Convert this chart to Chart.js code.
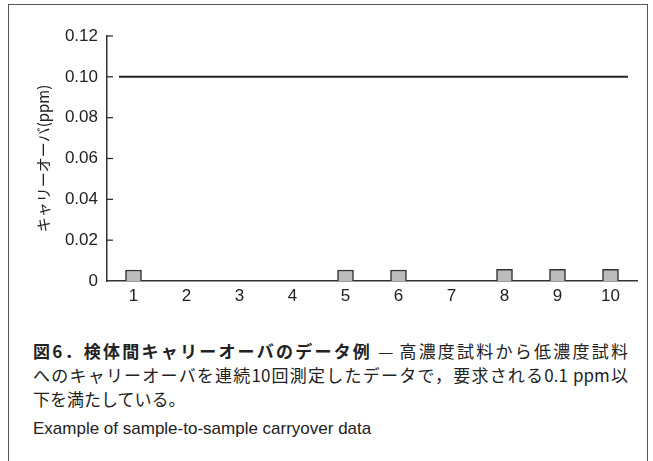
<!DOCTYPE html>
<html>
<head>
<meta charset="utf-8">
<script src="https://cdn.jsdelivr.net/npm/chart.js@4"></script>
<style>
  html, body { margin: 0; padding: 0; background: #fff; }
  body { width: 653px; height: 461px; position: relative; overflow: hidden; }
  #frame { position: absolute; left: 8px; top: 4px; width: 640px; height: 480px; border: 1.5px solid #555; box-sizing: border-box; }
  #chartBox { position: absolute; left: 0; top: 0; width: 653px; height: 320px; }
  #caption { position: absolute; left: 33px; top: 339px; width: 595px; font-family: "Noto Sans CJK JP", sans-serif; font-size: 17px; line-height: 24px; color: #222; }
  #caption .j { text-align: justify; text-align-last: justify; }
  #caption b { font-weight: 700; }
  #en { position: absolute; left: 33px; top: 419px; font-family: "Liberation Sans", Arial, sans-serif; font-size: 17px; color: #222; }
</style>
</head>
<body>
<div id="frame"></div>
<div id="chartBox"><canvas id="carryoverChart" width="653" height="320"></canvas></div>
<div id="caption">
  <div class="j"><b>図6．検体間キャリーオーバのデータ例</b> — 高濃度試料から低濃度試料</div>
  <div class="j">へのキャリーオーバを連続10回測定したデータで，要求される0.1 ppm以</div>
  <div>下を満たしている。</div>
</div>
<div id="en">Example of sample-to-sample carryover data</div>
<script>
const runs = ['1', '2', '3', '4', '5', '6', '7', '8', '9', '10'];
const carryover = [0.0054, 0, 0, 0, 0.0054, 0.0054, 0, 0.0057, 0.0057, 0.0057];
const limit = 0.10;
const yTicks = [0, 0.02, 0.04, 0.06, 0.08, 0.10, 0.12];

// 上限線と内向きの目盛り
const extras = {
    id: 'extras',
    afterDatasetsDraw(chart) {
        const c = chart.ctx, a = chart.chartArea, y = chart.scales.y;
        c.save();
        c.strokeStyle = '#222';
        c.lineWidth = 2;
        const ly = y.getPixelForValue(limit);
        c.beginPath();
        c.moveTo(a.left + 12, ly);
        c.lineTo(a.right - 9, ly);
        c.stroke();
        c.lineWidth = 1.2;
        yTicks.forEach(function (v) {
            if (v === 0) return;
            const py = y.getPixelForValue(v);
            c.beginPath();
            c.moveTo(a.left, py);
            c.lineTo(a.left + 6, py);
            c.stroke();
        });
        c.restore();
    }
};

const ctx = document.getElementById('carryoverChart').getContext('2d');
new Chart(ctx, {
    type: 'bar',
    data: {
        labels: runs,
        datasets: [{
            label: 'キャリーオーバ',
            data: carryover,
            backgroundColor: '#bcbcbc',
            borderColor: '#333',
            borderWidth: 1.5,
            barThickness: 16
        }]
    },
    options: {
        responsive: false,
        animation: false,
        layout: { padding: { top: 36, right: 16, bottom: 0, left: 0 } },
        plugins: { legend: { display: false }, tooltip: { enabled: false } },
        scales: {
            x: {
                grid: { display: false, drawTicks: false },
                border: { display: true, color: '#333', width: 1.5 },
                ticks: { color: '#222', padding: 5, font: { family: 'Liberation Sans', size: 17 } },
                afterFit: function (s) { s.height = 320 - 281; }
            },
            y: {
                min: 0,
                max: 0.12,
                afterBuildTicks: function (s) { s.ticks = yTicks.map(function (v) { return { value: v }; }); },
                grid: { display: false, drawTicks: false },
                border: { display: true, color: '#333', width: 1.5 },
                ticks: {
                    color: '#222',
                    padding: 9,
                    font: { family: 'Liberation Sans', size: 17 },
                    callback: function (v) { return v === 0 ? '0' : v.toFixed(2); }
                },
                title: {
                    display: true,
                    text: 'キャリーオーバ(ppm)',
                    color: '#222',
                    font: { family: 'Noto Sans CJK JP', size: 15 },
                    padding: { top: 34, bottom: 0 }
                },
                afterFit: function (s) { s.width = 107; }
            }
        }
    },
    plugins: [extras]
});
</script>
</body>
</html>
